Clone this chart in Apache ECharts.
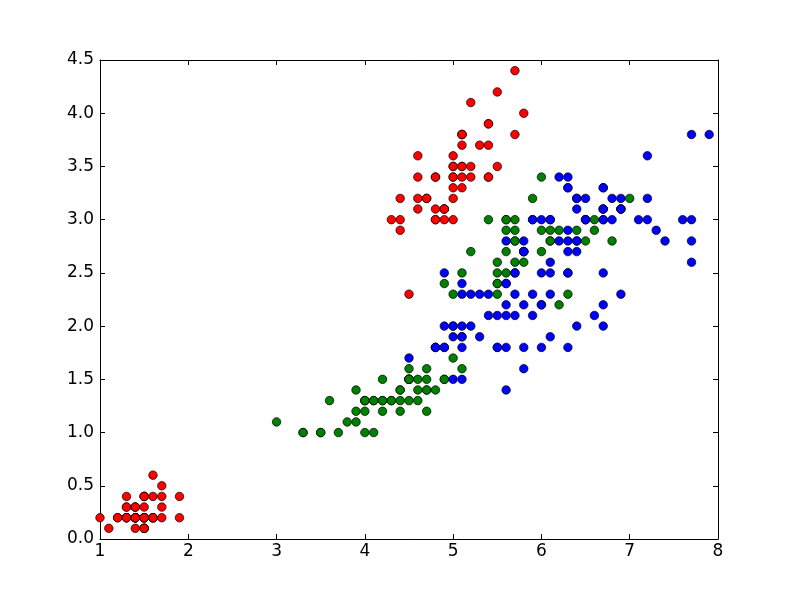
<!DOCTYPE html>
<html><head><meta charset="utf-8">
<script src="https://cdn.jsdelivr.net/npm/echarts@6/dist/echarts.min.js"></script>
<style>html,body{margin:0;padding:0;background:#fff}#c{width:800px;height:600px}</style>
</head><body><div id="c"></div>
<script>
// rows: [sepal length, sepal width, petal length, petal width]
const setosa = [
[5.1,3.5,1.4,0.2],[4.9,3.0,1.4,0.2],[4.7,3.2,1.3,0.2],[4.6,3.1,1.5,0.2],[5.0,3.6,1.4,0.2],
[5.4,3.9,1.7,0.4],[4.6,3.4,1.4,0.3],[5.0,3.4,1.5,0.2],[4.4,2.9,1.4,0.2],[4.9,3.1,1.5,0.1],
[5.4,3.7,1.5,0.2],[4.8,3.4,1.6,0.2],[4.8,3.0,1.4,0.1],[4.3,3.0,1.1,0.1],[5.8,4.0,1.2,0.2],
[5.7,4.4,1.5,0.4],[5.4,3.9,1.3,0.4],[5.1,3.5,1.4,0.3],[5.7,3.8,1.7,0.3],[5.1,3.8,1.5,0.3],
[5.4,3.4,1.7,0.2],[5.1,3.7,1.5,0.4],[4.6,3.6,1.0,0.2],[5.1,3.3,1.7,0.5],[4.8,3.4,1.9,0.2],
[5.0,3.0,1.6,0.2],[5.0,3.4,1.6,0.4],[5.2,3.5,1.5,0.2],[5.2,3.4,1.4,0.2],[4.7,3.2,1.6,0.2],
[4.8,3.1,1.6,0.2],[5.4,3.4,1.5,0.4],[5.2,4.1,1.5,0.1],[5.5,4.2,1.4,0.2],[4.9,3.1,1.5,0.1],
[5.0,3.2,1.2,0.2],[5.5,3.5,1.3,0.2],[4.9,3.1,1.5,0.1],[4.4,3.0,1.3,0.2],[5.1,3.4,1.5,0.2],
[5.0,3.5,1.3,0.3],[4.5,2.3,1.3,0.3],[4.4,3.2,1.3,0.2],[5.0,3.5,1.6,0.6],[5.1,3.8,1.9,0.4],
[4.8,3.0,1.4,0.3],[5.1,3.8,1.6,0.2],[4.6,3.2,1.4,0.2],[5.3,3.7,1.5,0.2],[5.0,3.3,1.4,0.2]
];
const versicolor = [
[7.0,3.2,4.7,1.4],[6.4,3.2,4.5,1.5],[6.9,3.1,4.9,1.5],[5.5,2.3,4.0,1.3],[6.5,2.8,4.6,1.5],
[5.7,2.8,4.5,1.3],[6.3,3.3,4.7,1.6],[4.9,2.4,3.3,1.0],[6.6,2.9,4.6,1.3],[5.2,2.7,3.9,1.4],
[5.0,2.0,3.5,1.0],[5.9,3.0,4.2,1.5],[6.0,2.2,4.0,1.0],[6.1,2.9,4.7,1.4],[5.6,2.9,3.6,1.3],
[6.7,3.1,4.4,1.4],[5.6,3.0,4.5,1.5],[5.8,2.7,4.1,1.0],[6.2,2.2,4.5,1.5],[5.6,2.5,3.9,1.1],
[5.9,3.2,4.8,1.8],[6.1,2.8,4.0,1.3],[6.3,2.5,4.9,1.5],[6.1,2.8,4.7,1.2],[6.4,2.9,4.3,1.3],
[6.6,3.0,4.4,1.4],[6.8,2.8,4.8,1.4],[6.7,3.0,5.0,1.7],[6.0,2.9,4.5,1.5],[5.7,2.6,3.5,1.0],
[5.5,2.4,3.8,1.1],[5.5,2.4,3.7,1.0],[5.8,2.7,3.9,1.2],[6.0,2.7,5.1,1.6],[5.4,3.0,4.5,1.5],
[6.0,3.4,4.5,1.6],[6.7,3.1,4.7,1.5],[6.3,2.3,4.4,1.3],[5.6,3.0,4.1,1.3],[5.5,2.5,4.0,1.3],
[5.5,2.6,4.4,1.2],[6.1,3.0,4.6,1.4],[5.8,2.6,4.0,1.2],[5.0,2.3,3.3,1.0],[5.6,2.7,4.2,1.3],
[5.7,3.0,4.2,1.2],[5.7,2.9,4.2,1.3],[6.2,2.9,4.3,1.3],[5.1,2.5,3.0,1.1],[5.7,2.8,4.1,1.3]
];
const virginica = [
[6.3,3.3,6.0,2.5],[5.8,2.7,5.1,1.9],[7.1,3.0,5.9,2.1],[6.3,2.9,5.6,1.8],[6.5,3.0,5.8,2.2],
[7.6,3.0,6.6,2.1],[4.9,2.5,4.5,1.7],[7.3,2.9,6.3,1.8],[6.7,2.5,5.8,1.8],[7.2,3.6,6.1,2.5],
[6.5,3.2,5.1,2.0],[6.4,2.7,5.3,1.9],[6.8,3.0,5.5,2.1],[5.7,2.5,5.0,2.0],[5.8,2.8,5.1,2.4],
[6.4,3.2,5.3,2.3],[6.5,3.0,5.5,1.8],[7.7,3.8,6.7,2.2],[7.7,2.6,6.9,2.3],[6.0,2.2,5.0,1.5],
[6.9,3.2,5.7,2.3],[5.6,2.8,4.9,2.0],[7.7,2.8,6.7,2.0],[6.3,2.7,4.9,1.8],[6.7,3.3,5.7,2.1],
[7.2,3.2,6.0,1.8],[6.2,2.8,4.8,1.8],[6.1,3.0,4.9,1.8],[6.4,2.8,5.6,2.1],[7.2,3.0,5.8,1.6],
[7.4,2.8,6.1,1.9],[7.9,3.8,6.4,2.0],[6.4,2.8,5.6,2.2],[6.3,2.8,5.1,1.5],[6.1,2.6,5.6,1.4],
[7.7,3.0,6.1,2.3],[6.3,3.4,5.6,2.4],[6.4,3.1,5.5,1.8],[6.0,3.0,4.8,1.8],[6.9,3.1,5.4,2.1],
[6.7,3.1,5.6,2.4],[6.9,3.1,5.1,2.3],[5.8,2.7,5.1,1.9],[6.8,3.2,5.9,2.3],[6.7,3.3,5.7,2.5],
[6.7,3.0,5.2,2.3],[6.3,2.5,5.0,1.9],[6.5,3.0,5.2,2.0],[6.2,3.4,5.4,2.3],[5.9,3.0,5.1,1.8]
];
const speciesColors = ['#ff0000', '#008000', '#0000ff'];
const xTicks = [1,2,3,4,5,6,7,8];
const yTicks = [0.0,0.5,1.0,1.5,2.0,2.5,3.0,3.5,4.0,4.5];

function pairs(rows){
  const out = [];
  rows.forEach(r => out.push([r[0], r[1]]));
  rows.forEach(r => out.push([r[2], r[3]]));
  return out;
}
const font = {fontFamily:'DejaVu Sans', fontSize:17, color:'#000'};
function xa(pos, labels){
  return {type:'value', position:pos, min:xTicks[0], max:xTicks[xTicks.length-1], interval:1,
    axisLine:{show:true, onZero:false, lineStyle:{color:'#000', width:1}},
    axisTick:{show:true, inside:true, length:5, lineStyle:{color:'#000'}},
    axisLabel:Object.assign({show:labels, margin:4}, font),
    splitLine:{show:false}};
}
function ya(pos, labels){
  return {type:'value', position:pos, min:yTicks[0], max:yTicks[yTicks.length-1], interval:0.5,
    axisLine:{show:true, onZero:false, lineStyle:{color:'#000', width:1}},
    axisTick:{show:true, inside:true, length:5, lineStyle:{color:'#000'}},
    axisLabel:Object.assign({show:labels, margin:6, formatter:v=>v.toFixed(1)}, font),
    splitLine:{show:false}};
}
const chart = echarts.init(document.getElementById('c'), null, {renderer:'canvas'});
chart.setOption({
  animation:false,
  backgroundColor:'#fff',
  grid:{left:100, right:82, top:60, bottom:61, containLabel:false},
  xAxis:[xa('bottom', true), xa('top', false)],
  yAxis:[ya('left', true), ya('right', false)],
  series:[setosa, versicolor, virginica].map((rows,i)=>({
    type:'scatter', xAxisIndex:0, yAxisIndex:0, data:pairs(rows),
    symbol:'circle', symbolSize:8.5,
    itemStyle:{color:speciesColors[i], borderColor:'#000', borderWidth:0.7, opacity:1},
    clip:false
  }))
});
</script></body></html>
